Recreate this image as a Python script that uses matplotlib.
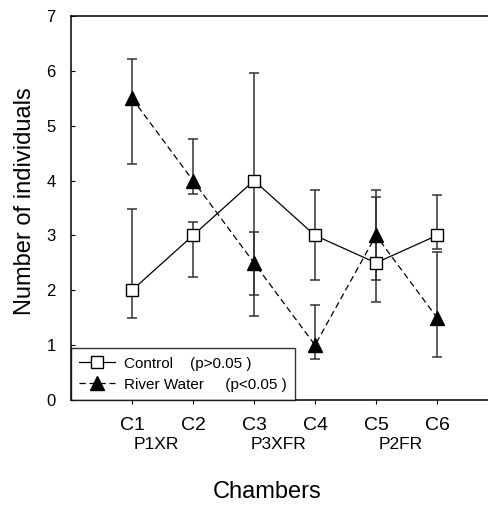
import numpy as np
import matplotlib
matplotlib.use("Agg")
import matplotlib.pyplot as plt

plt.rcParams['font.family'] = ['Liberation Sans', 'DejaVu Sans']

chambers = ["C1", "C2", "C3", "C4", "C5", "C6"]
groups = ["P1XR", "P3XFR", "P2FR"]

# Control: mean with lower / upper error ends
control = [2.0, 3.0, 4.0, 3.0, 2.5, 3.0]
control_low = [1.49, 2.24, 1.53, 2.18, 1.79, 2.75]
control_high = [3.49, 3.24, 5.97, 3.82, 3.82, 3.74]

# River water
river = [5.5, 4.0, 2.5, 1.0, 3.0, 1.5]
river_low = [4.30, 3.76, 1.91, 0.74, 2.18, 0.79]
river_high = [6.21, 4.75, 3.07, 1.74, 3.70, 2.70]

x = np.arange(1, len(chambers) + 1)

fig = plt.figure(figsize=(4.89, 5.05), dpi=100)
ax = fig.add_axes([71 / 489, 105 / 505, 427 / 489, 384 / 505])

c = np.array(control)
r = np.array(river)
cerr = [c - np.array(control_low), np.array(control_high) - c]
rerr = [r - np.array(river_low), np.array(river_high) - r]

ax.errorbar(x, c, yerr=cerr, fmt='none', ecolor='#333333', elinewidth=1.1,
            capsize=3.5, capthick=1.1, zorder=2)
ax.errorbar(x, r, yerr=rerr, fmt='none', ecolor='#333333', elinewidth=1.1,
            capsize=3.5, capthick=1.1, zorder=2)
ax.plot(x, c, '-', color='black', lw=0.9, marker='s', markersize=9,
        markerfacecolor='white', markeredgecolor='black', markeredgewidth=1.0,
        label='Control    (p>0.05 )', zorder=3)
ax.plot(x, r, '--', color='black', lw=0.9, marker='^', markersize=10,
        markerfacecolor='black', markeredgecolor='black', dashes=(5, 3),
        label='River Water     (p<0.05 )', zorder=4)

ax.set_xlim(0, 7)
ax.set_ylim(0, 7)
ax.set_xticks(x)
ax.set_xticklabels(chambers, fontsize=14)
ax.set_yticks(range(0, 8))
ax.tick_params(axis='y', direction='in', length=3, labelsize=12, pad=11)
ax.tick_params(axis='x', direction='out', length=3, pad=9)
ax.spines['right'].set_visible(False)
for s in ['left', 'bottom', 'top']:
    ax.spines[s].set_linewidth(1.1)

# group labels under chamber pairs
for i, g in enumerate(groups):
    gx = (x[2 * i] + x[2 * i + 1]) / 2 - 0.1
    ax.text(gx, -0.68, g, ha='center', va='top', fontsize=12.5,
            transform=ax.transData, clip_on=False)

fig.text(267 / 489, 1 - 492 / 505, 'Chambers', ha='center', va='center',
         fontsize=17)
fig.text(25 / 489, 1 - 201 / 505, 'Number of individuals', ha='center',
         va='center', rotation=90, fontsize=17)

leg = ax.legend(loc='lower left', fontsize=11, frameon=True, fancybox=False,
                borderaxespad=0, handlelength=2.3, borderpad=0.55,
                labelspacing=0.45, handletextpad=0.6)
leg.get_frame().set_edgecolor('black')
leg.get_frame().set_linewidth(1.0)

fig.savefig("out.png", dpi=100)
